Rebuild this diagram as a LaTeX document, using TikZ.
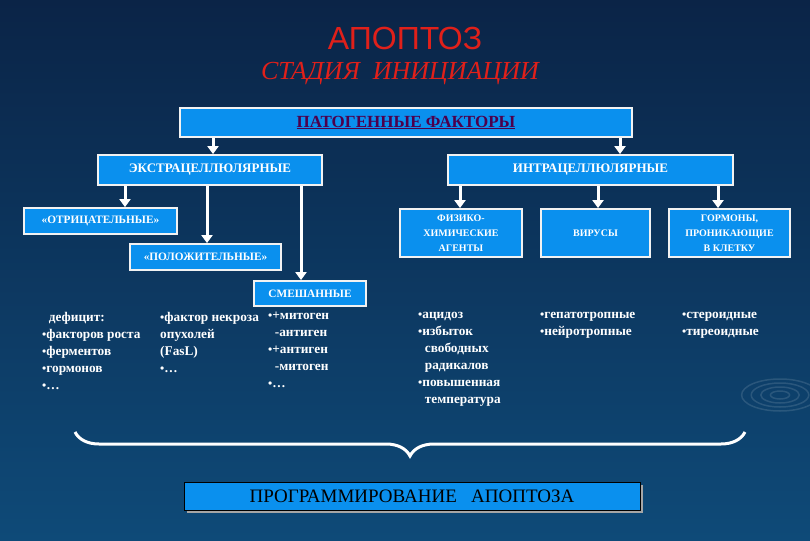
\documentclass[tikz,border=0pt]{standalone}
\usepackage{fontspec}
\setmainfont{Liberation Serif}
\newfontfamily\tsans{Liberation Sans}
\usetikzlibrary{decorations.pathreplacing,arrows.meta}
\definecolor{bg1}{HTML}{0B2447}
\definecolor{bg2}{HTML}{0E4A78}
\definecolor{boxc}{HTML}{0A90EE}
\definecolor{ttl}{HTML}{E0201A}
\newcommand{\bul}{{\large•}}
\tikzset{
 bx/.style={draw=white!90!gray, line width=1.8pt, fill=boxc, inner sep=1pt, align=center, text=white, font=\bfseries\fontsize{11.3}{13}\selectfont},
 sbx/.style={bx, minimum height=48, font=\bfseries\fontsize{10}{15}\selectfont},
 ar/.style={draw=white, line width=3pt, -{Triangle[width=11pt,length=8pt]}},
 lst/.style={text=white, anchor=north west, align=left, font=\bfseries\fontsize{13.3}{17}\selectfont, inner sep=0pt},
}
\begin{document}
\begin{tikzpicture}[x=1pt,y=-1pt]
\shade[top color=bg1,bottom color=bg2] (0,0) rectangle (810,540);
\useasboundingbox (0,0) rectangle (810,540);
\foreach \r in {8,16,24,32}{\draw[white,opacity=0.12,line width=1.5pt] (780,395) ellipse ({\r*1.2} and \r*0.5);}
\node[text=ttl,font=\tsans\fontsize{32}{34}\selectfont] (t1) at (405,38) {АПОПТОЗ};
\node[text=ttl,font=\itshape\fontsize{26}{28}\selectfont] (t2) at (400,74) {СТАДИЯ \ ИНИЦИАЦИИ};
\node[bx, minimum width=452, minimum height=29, text=violet!60!black, font=\bfseries\fontsize{17}{19}\selectfont] (pat) at (406,122.5) {\underline{ПАТОГЕННЫЕ ФАКТОРЫ}};
\node[bx, minimum width=224, minimum height=30, font=\bfseries\fontsize{13}{15}\selectfont] (ext) at (210,170) {ЭКСТРАЦЕЛЛЮЛЯРНЫЕ};
\node[bx, minimum width=285, minimum height=30, font=\bfseries\fontsize{13}{15}\selectfont] (int) at (590.5,170) {ИНТРАЦЕЛЛЮЛЯРНЫЕ};
\node[bx, minimum width=153, minimum height=26] (neg) at (100.5,221) {«ОТРИЦАТЕЛЬНЫЕ»};
\node[bx, minimum width=151, minimum height=26] (pos) at (205.5,257) {«ПОЛОЖИТЕЛЬНЫЕ»};
\node[bx, minimum width=112, minimum height=25] (mix) at (310,293.5) {СМЕШАННЫЕ};
\node[sbx, minimum width=122] (fiz) at (461,233) {ФИЗИКО-\\ХИМИЧЕСКИЕ\\АГЕНТЫ};
\node[sbx, minimum width=109] (vir) at (595.5,233) {ВИРУСЫ};
\node[sbx, minimum width=121] (gor) at (729.5,233) {ГОРМОНЫ,\\ПРОНИКАЮЩИЕ\\В КЛЕТКУ};
\draw[ar] (pat.south -| 213,0) -- (ext.north -| 213,0);
\draw[ar] (pat.south -| 620,0) -- (int.north -| 620,0);
\draw[ar] (ext.south -| 125,0) -- (neg.north -| 125,0);
\draw[ar] (ext.south -| 207,0) -- (pos.north -| 207,0);
\draw[ar] (ext.south -| 301,0) -- (mix.north -| 301,0);
\draw[ar] (int.south -| 460,0) -- (fiz.north -| 460,0);
\draw[ar] (int.south -| 598,0) -- (vir.north -| 598,0);
\draw[ar] (int.south -| 718,0) -- (gor.north -| 718,0);
\node[lst] (l1) at (42,312) {\ \ дефицит:\\\bul факторов роста\\\bul ферментов\\\bul гормонов\\\bul …};
\node[lst] (l2) at (160,312) {\bul фактор некроза\\опухолей\\(FasL)\\\bul …};
\node[lst] (l3) at (268,312) {\bul +митоген\\\ \ -антиген\\\bul +антиген\\\ \ -митоген\\\bul …};
\node[lst] (l4) at (418,312) {\bul ацидоз\\\bul избыток\\\ \ свободных\\\ \ радикалов\\\bul повышенная\\\ \ температура};
\node[lst] (l5) at (540,312) {\bul гепатотропные\\\bul нейротропные};
\node[lst] (l6) at (682,312) {\bul стероидные\\\bul тиреоидные};
\coordinate (bl) at (75,432);
\coordinate (br) at (745,432);
\draw[white,line width=3pt,decorate,decoration={brace,mirror,amplitude=24pt}] (bl) -- (br);
\fill[gray!70] (187,485) rectangle (643,513);
\node[draw=black,line width=1pt,fill=boxc,minimum width=456,minimum height=28,inner sep=0pt,font=\fontsize{19}{21}\selectfont] (prog) at (412,496) {ПРОГРАММИРОВАНИЕ \ \ АПОПТОЗА};
\end{tikzpicture}
\end{document}
